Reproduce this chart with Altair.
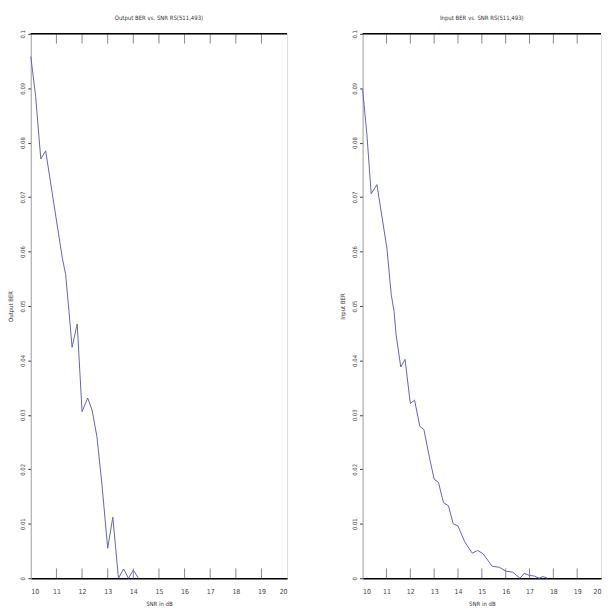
import altair as alt
import pandas as pd

snr_out = [10.0, 10.19, 10.39, 10.58, 11.23, 11.36, 11.49, 11.61, 11.81, 12.0, 12.22,
           12.39, 12.58, 12.78, 13.0, 13.2, 13.42, 13.62, 13.81, 14.0, 14.2]
ber_out = [0.0958, 0.0885, 0.0770, 0.0785, 0.0588, 0.0558, 0.0490, 0.0424, 0.0467, 0.0306, 0.0331,
           0.0309, 0.0260, 0.0170, 0.0055, 0.0112, 0.0, 0.0017, 0.0, 0.0015, 0.0]

snr_in = [10.0, 10.18, 10.36, 10.6, 11.02, 11.2, 11.32, 11.4, 11.6, 11.78, 12.0, 12.18,
          12.4, 12.57, 12.82, 13.0, 13.18, 13.39, 13.6, 13.8, 14.0, 14.28, 14.6, 14.82,
          15.05, 15.25, 15.43, 15.74, 16.0, 16.3, 16.6, 16.78, 17.0, 17.2, 17.4, 17.57, 17.75]
ber_in = [0.0898, 0.0815, 0.0706, 0.0723, 0.0606, 0.0521, 0.0490, 0.0449, 0.0388, 0.0402, 0.0321, 0.0327,
          0.0279, 0.0273, 0.0218, 0.0182, 0.0176, 0.0139, 0.0133, 0.0100, 0.0096, 0.0067, 0.0046, 0.0051,
          0.0045, 0.0033, 0.0022, 0.0020, 0.0013, 0.0011, 0.0, 0.0009, 0.0005, 0.0004, 0.0, 0.0003, 0.0]

x_ticks = [10, 11, 12, 13, 14, 15, 16, 17, 18, 19, 20]
inner_ticks = [11, 12, 13, 14, 15, 16, 17, 18, 19]
y_ticks = [0.0, 0.01, 0.02, 0.03, 0.04, 0.05, 0.06, 0.07, 0.08, 0.09, 0.1]

FONT = "DejaVu Sans Condensed, Liberation Sans Narrow, DejaVu Sans, sans-serif"
LINE = "#6464b4"


def panel(snr, ber, title, ytitle, width):
    df = pd.DataFrame({"snr": snr, "ber": ber})
    tk = pd.DataFrame({"t": inner_ticks})
    tk["b0"] = 0.0
    tk["b1"] = 0.0018
    tk["t0"] = 0.1
    tk["t1"] = 0.0982
    top = pd.DataFrame({"y": [0.1]})

    xs = alt.Scale(domain=[10, 20], nice=False, zero=False)
    ys = alt.Scale(domain=[0, 0.1], nice=False)
    xax = alt.Axis(values=x_ticks, title="SNR in dB", ticks=False, grid=False,
                   domainColor="black", domainWidth=1.5, labelFontSize=7,
                   labelColor="#444", labelPadding=9, titleFontSize=6,
                   titleFontWeight="normal", titleColor="#333", titlePadding=6,
                   labelFont=FONT, titleFont=FONT)
    yax = alt.Axis(values=y_ticks, format=".2~f", title=ytitle, grid=False,
                   labelAngle=-90, labelFontSize=6, labelColor="#444", labelPadding=2,
                   tickSize=3, tickColor="#333", domainColor="#aaa",
                   titleFontSize=6, titleFontWeight="normal", titleColor="#333",
                   titlePadding=6, labelFont=FONT, titleFont=FONT)

    line = alt.Chart(df).mark_line(color=LINE, strokeWidth=1).encode(
        x=alt.X("snr:Q", scale=xs, axis=xax),
        y=alt.Y("ber:Q", scale=ys, axis=yax),
    )
    bt = alt.Chart(tk).mark_rule(color="#888", strokeWidth=1).encode(
        x=alt.X("t:Q", scale=xs, axis=xax),
        y=alt.Y("b0:Q", scale=ys, axis=yax),
        y2=alt.Y2("b1:Q"),
    )
    tt = alt.Chart(tk).mark_rule(color="#888", strokeWidth=1).encode(
        x=alt.X("t:Q", scale=xs, axis=xax),
        y=alt.Y("t0:Q", scale=ys, axis=yax),
        y2=alt.Y2("t1:Q"),
    )
    tr = alt.Chart(top).mark_rule(color="black", strokeWidth=1.5).encode(
        y=alt.Y("y:Q", scale=ys, axis=yax),
    )
    return alt.layer(line, bt, tt, tr).properties(
        width=width, height=548,
        title=alt.TitleParams(title, fontSize=6, fontWeight="normal", color="#333",
                              font=FONT, offset=9),
    )


left = panel(snr_out, ber_out, "Output BER vs. SNR RS(511,493)", "Output BER", 258)
right = panel(snr_in, ber_in, "Input BER vs. SNR RS(511,493)", "Input BER", 240)

chart = alt.hconcat(left, right, spacing=50).properties(
    padding={"left": 7, "top": 12, "right": 5, "bottom": 2},
).configure_view(stroke="#bbb", strokeWidth=1).configure(background="white")

chart.save("out.html", embed_options={"renderer": "svg", "actions": False})
